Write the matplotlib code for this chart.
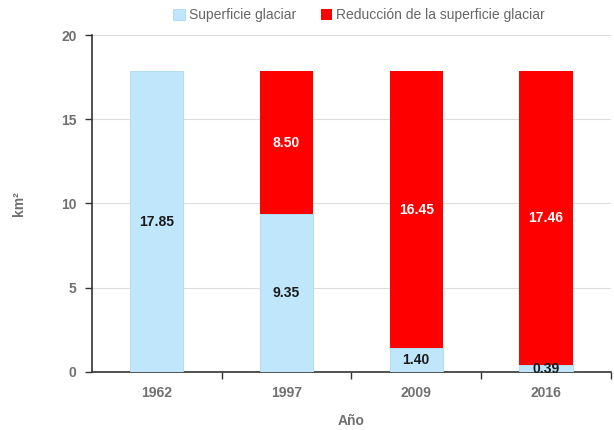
import matplotlib.pyplot as plt
import numpy as np

years = ['1962', '1997', '2009', '2016']
superficie = [17.85, 9.35, 1.40, 0.39]
reduccion = [0.0, 8.50, 16.45, 17.46]

plt.rcParams['font.family'] = ['Liberation Sans Narrow', 'Liberation Sans', 'DejaVu Sans']

blue = '#bfe6fb'
red = '#ff0000'
grey = '#707070'

fig = plt.figure(figsize=(6.14, 4.3), dpi=100)
ax = fig.add_axes([0.1498, 0.1349, 0.845, 0.7837])

x = np.arange(len(years))
w = 0.41
ax.bar(x, superficie, w, color=blue, edgecolor='#a9d8f2', linewidth=0.6,
       label='Superficie glaciar', zorder=3)
ax.bar(x, reduccion, w, bottom=superficie, color=red, linewidth=0,
       label='Reducción de la superficie glaciar', zorder=3)

for i in range(len(years)):
    ax.text(x[i], superficie[i] / 2, f'{superficie[i]:.2f}', ha='center', va='center',
            fontsize=10, fontweight='bold', color='#1a1a1a', zorder=4)
    if reduccion[i] > 0:
        ax.text(x[i], superficie[i] + reduccion[i] / 2, f'{reduccion[i]:.2f}', ha='center',
                va='center', fontsize=10, fontweight='bold', color='white', zorder=4)

ax.set_xlim(-0.5, len(years) - 0.5)
ax.set_ylim(0, 20)
ax.set_yticks([0, 5, 10, 15, 20])
ax.set_xticks(x)
ax.set_xticklabels(years)
ax.set_xticks(np.arange(len(years)) + 0.5, minor=True)
ax.tick_params(axis='x', which='major', length=0, pad=10, labelsize=10, labelcolor=grey)
ax.tick_params(axis='x', which='minor', length=5, direction='out', width=1, color='#333333')
ax.tick_params(axis='y', length=5, width=1, color='#333333', labelsize=10, labelcolor=grey, pad=6)
for lab in ax.get_xticklabels() + ax.get_yticklabels():
    lab.set_fontweight('bold')

ax.grid(axis='y', color='#dddddd', linewidth=0.8, zorder=0)
for s in ['top', 'right']:
    ax.spines[s].set_visible(False)
for s in ['left', 'bottom']:
    ax.spines[s].set_color('#333333')
    ax.spines[s].set_linewidth(1.2)

ax.set_xlabel('Año', fontsize=10, fontweight='bold', color=grey, labelpad=10)
ax.set_ylabel('km²', fontsize=10, fontweight='bold', color=grey, labelpad=25)

fig.legend(loc='upper center', bbox_to_anchor=(0.585, 1.01), ncol=2, frameon=False,
           fontsize=10, handlelength=0.8, handleheight=0.8, handletextpad=0.3,
           columnspacing=1.8, labelcolor='#666666')

fig.savefig('out.png', dpi=100)
